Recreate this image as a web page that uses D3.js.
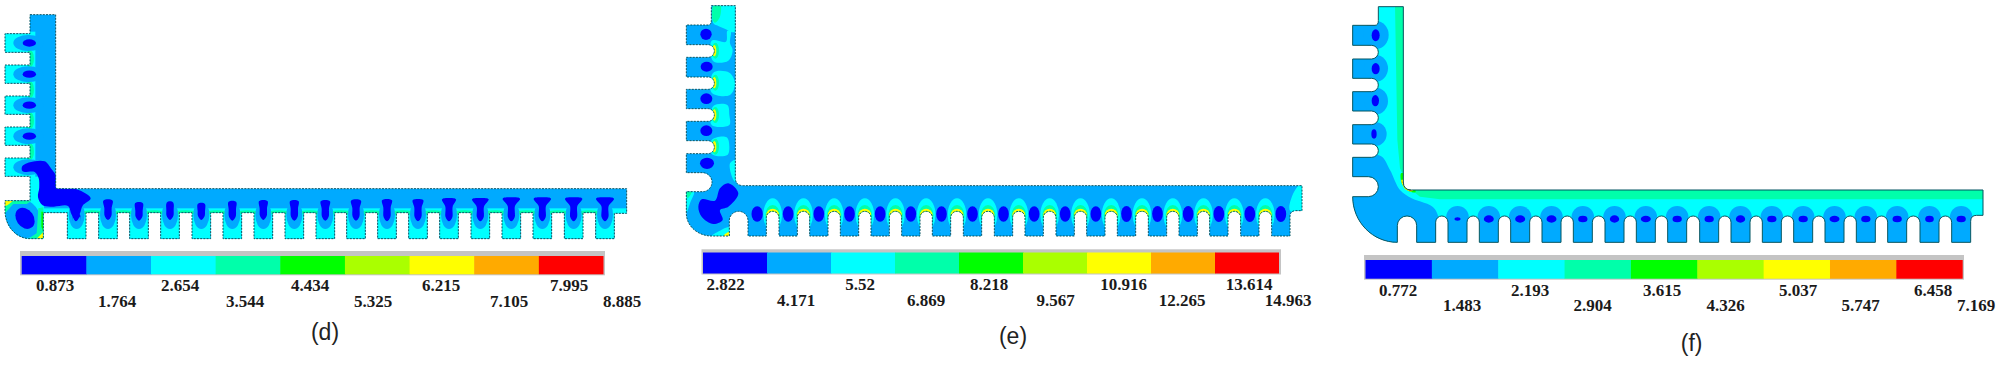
<!DOCTYPE html>
<html>
<head>
<meta charset="utf-8">
<script src="https://cdn.jsdelivr.net/npm/d3@7"></script>
<style>
  html, body { margin: 0; padding: 0; background: #fff; }
  svg { display: block; }
</style>
</head>
<body>
<div id="chart"></div>
<script>
const width = 1999;
const height = 385;

// Fringe colours, low to high
const levelColors = ["#0000ff", "#00aaff", "#00ffff", "#00ffaa", "#00ff00", "#aaff00", "#ffff00", "#ffaa00", "#ff0000"];

// Legend values
const dTicks = ["0.873", "1.764", "2.654", "3.544", "4.434", "5.325", "6.215", "7.105", "7.995", "8.885"];
const eTicks = ["2.822", "4.171", "5.52", "6.869", "8.218", "9.567", "10.916", "12.265", "13.614", "14.963"];
const fTicks = ["0.772", "1.483", "2.193", "2.904", "3.615", "4.326", "5.037", "5.747", "6.458", "7.169"];

// Label anchors along each bar
const dTickX = [55, 117, 180, 245, 310, 373, 441, 509, 569, 622];
const eTickX = [725.7, 796, 860, 926, 989, 1055.5, 1123.7, 1182, 1249, 1288];
const fTickX = [1398, 1462, 1530, 1592.5, 1662, 1725.5, 1798, 1860.5, 1933, 1976];

// Outline of the three parts, model units (1/3 px)
const dTeeth = [202, 296, 389, 482, 576, 669, 762, 855, 948, 1040, 1133, 1226, 1319, 1413, 1506, 1599, 1693, 1787];
const eTeeth = [234, 327, 419, 511, 603, 695, 787, 880, 973, 1065, 1158, 1250, 1342, 1435, 1527, 1619, 1712, 1805];
const fTeeth = [230, 324, 418, 512, 606, 700, 795, 889, 983, 1079, 1173, 1267, 1361, 1455, 1549, 1643, 1740, 1835];
const dArmTeeth = [[101, 157], [195, 250], [288, 343], [381, 436], [474, 529]];
const eArmTeeth = [[75, 134], [172, 231], [268, 326], [364, 422], [461, 518]];
const fArmTeeth = [[76, 136], [177, 235], [275, 333], [374, 432], [472, 530]];
const eSlotEnds = [133, 133, 133, 133, 126];
const fSlotEnds = [115, 115, 115, 115, 115];
const dSlotEnds = [90, 90, 90, 90, 90];

// Contour patches, [level, cx, cy, rx, ry, rotation]
const dEllipses = [
  [1, 70, 655, 50, 62, -30], [0, 75, 655, 26, 34, -35],
];
const dPolys = [
  [0, [[66, 500], [90, 487], [134, 484], [155, 508], [170, 530], [178, 555], [198, 566], [230, 568], [272, 595], [248, 617], [240, 640], [228, 664], [214, 642], [204, 618], [160, 620], [128, 616], [114, 592], [118, 562], [116, 535], [104, 516], [68, 514]]],
];
const dHot = [
  [3, [[15, 602], [95, 602], [80, 612], [40, 612], [15, 640]]],
  [6, [[15, 602], [40, 602], [22, 616], [15, 618]]],
  [3, [[115, 625], [130, 622], [130, 716], [85, 716], [110, 700]]],
  [4, [[124, 635], [130, 635], [130, 695], [124, 680]]],
  [6, [[110, 716], [130, 696], [130, 716]]],
];
const dCoreHead = [10, 14, 12, 10, 11, 12, 13, 13, 14, 15, 15, 16, 21, 25, 26, 26, 26, 27];
const dCoreTop = [640, 598, 606, 604, 608, 602, 600, 600, 600, 598, 597, 597, 594, 594, 592, 592, 592, 592];
const dCoreTip = [662, 660, 662, 660, 660, 662, 660, 662, 662, 662, 664, 664, 664, 664, 664, 664, 664, 664];

const ePatches = [
  [3, 136, 152, 11, 24, 0], [3, 136, 248, 11, 24, 0], [3, 136, 345, 11, 24, 0], [3, 136, 440, 11, 24, 0],
  [6, 133, 152, 6, 17, 0], [6, 133, 248, 6, 17, 0], [6, 133, 345, 6, 17, 0], [6, 133, 440, 6, 17, 0],
  [0, 108, 103, 17, 17, 0], [0, 110, 200, 18, 15, 0], [0, 109, 296, 18, 16, 0], [0, 109, 392, 18, 16, 0], [0, 111, 490, 21, 17, 0],
];
const eBands = [
  [2, [[135, 10], [205, 10], [205, 92], [182, 96], [172, 90], [145, 78], [130, 70]]],
  [2, [[125, 122], [168, 125], [172, 92], [182, 94], [180, 130], [188, 150], [175, 182], [130, 184]]],
  [2, [[130, 218], [178, 218], [195, 250], [180, 285], [125, 278]]],
  [2, [[130, 318], [172, 315], [178, 345], [178, 375], [125, 375]]],
  [2, [[125, 420], [170, 412], [178, 440], [172, 465], [125, 462]]],
  [3, [[132, 10], [150, 10], [150, 50], [135, 68], [128, 60]]],
  [2, [[180, 490], [196, 480], [196, 545], [186, 530]]],
];
const ePolys = [
  [0, [[150, 565], [175, 550], [205, 580], [175, 620], [150, 630], [158, 660], [130, 672], [95, 650], [85, 620], [95, 598], [135, 602]]],
  [2, [[49, 575], [72, 575], [60, 610], [49, 640]]],
  [3, [[49, 575], [65, 575], [52, 595]]],
  [2, [[125, 708], [150, 692], [178, 682], [178, 708]]],
  [6, [[160, 708], [178, 695], [178, 708]]],
  [2, [[1896, 548], [1870, 580], [1860, 632], [1896, 632]]],
];
const eCoreRx = [17, 16, 16, 16, 16, 16, 16, 16, 16, 16, 16, 16, 16, 16, 16, 16, 16, 16];
const eCoreRy = [23, 23, 23, 23, 23, 23, 23, 23, 23, 23, 23, 23, 24, 24, 24, 24, 24, 24];

const fArmBlobs = [[108, 105, 38, 42], [108, 205, 36, 40], [108, 303, 36, 40], [106, 402, 34, 36]];
const fArmCores = [[107, 106, 12, 18], [107, 206, 12, 17], [106, 302, 11, 17], [102, 402, 8, 14]];
const fCoreRx = [0, 9, 15, 15, 15, 14, 14, 15, 14, 14, 14, 14, 14, 15, 14, 14, 13, 14];
const fCoreRy = [0, 5, 11, 11, 11, 10, 11, 10, 10, 10, 11, 10, 10, 10, 10, 10, 10, 10];
const fCorner = [[38, 472], [122, 468], [150, 510], [180, 570], [215, 595], [285, 628], [292, 735], [38, 735]];
const fTeal = [[165, 15], [195, 15], [195, 565], [1935, 565], [1935, 598], [300, 598], [240, 590], [205, 562], [180, 505], [172, 420]];
const fHot = [
  [4, [[183, 520], [190, 520], [192, 545], [215, 567], [226, 570], [226, 577], [205, 573], [186, 552]]],
  [6, [[184, 540], [190, 540], [194, 553], [210, 566], [220, 570], [215, 574], [196, 568]]],
  [8, [[188, 545], [192, 548], [200, 560], [215, 570], [210, 572], [194, 560]]],
];

const panels = [
  {
    name: "d", x0: 0, y0: 0, top: 44, armL: 90, armR: 167, left: 15, teeth: dTeeth, toothW: 56,
    armTeeth: dArmTeeth, slotEnds: dSlotEnds, round: false, cornerTop: 602, arcY: 632, arcX: 90,
    cornerR: 130, bandTop: 566, slotTop: 638, bottom: 716, right: 1880, fillet: 6,
    stroke: "#0b5560", dash: "2,1.2", ticks: dTicks, tickX: dTickX, rows: [291, 307],
    barX: [21.7, 603.5], barY: [256, 274.3], gutter: [20, 605, 251, 275.3], title: [325, 332, 23],
  },
  {
    name: "e", x0: 670, y0: 0, top: 17, armL: 124, armR: 196, left: 49, teeth: eTeeth, toothW: 55,
    armTeeth: eArmTeeth, slotEnds: eSlotEnds, round: true, cornerTop: 575, arcY: 640, arcX: 125,
    cornerR: 178, bandTop: 557, slotTop: 634, bottom: 708, right: 1896, fillet: 24,
    stroke: "#0b5560", dash: "2,1.2", ticks: eTicks, tickX: eTickX, rows: [290, 306],
    barX: [703, 1279], barY: [252.5, 273.5], gutter: [701.5, 1281, 249.3, 274.5], title: [1013, 336, 23],
  },
  {
    name: "f", x0: 1340, y0: 0, top: 20, armL: 115, armR: 190, left: 38, teeth: fTeeth, toothW: 57,
    armTeeth: fArmTeeth, slotEnds: fSlotEnds, round: true, cornerTop: 590, arcY: 590, arcX: 172,
    cornerR: 172, bandTop: 570, slotTop: 648, bottom: 727, right: 1929, fillet: 24,
    stroke: "#0b5560", dash: null, ticks: fTicks, tickX: fTickX, rows: [295.7, 310.7],
    barX: [1365.5, 1962.7], barY: [260, 278.7], gutter: [1364, 1964, 255, 279.7], title: [1691.6, 343, 23],
  },
];

const svg = d3.select("#chart").append("svg").attr("width", width).attr("height", height);

// Source figure is a soft JPEG
svg.append("defs").append("filter").attr("id", "soft")
  .append("feGaussianBlur").attr("stdDeviation", 0.45);

const smooth = d3.line().curve(d3.curveCatmullRomClosed.alpha(0.5));
const straight = d3.line().curve(d3.curveLinearClosed);

// Build the part outline, clockwise from the top of the arm
function outline(p, x, y, k) {
  const c = d3.path();
  const kappa = 0.5523;
  c.moveTo(x(p.armL), y(p.top));
  c.lineTo(x(p.armR), y(p.top));
  c.lineTo(x(p.armR), y(p.bandTop - p.fillet));
  c.quadraticCurveTo(x(p.armR), y(p.bandTop), x(p.armR + p.fillet), y(p.bandTop));
  c.lineTo(x(p.right), y(p.bandTop));
  const stub = p.slotTop + (p.round ? -2 : 2);
  c.lineTo(x(p.right), y(stub));
  for (let i = p.teeth.length - 1; i >= 0; i--) {
    const a = p.teeth[i];
    const b = a + p.toothW;
    if (i === p.teeth.length - 1) {
      c.lineTo(x(b + (p.round ? 18 : 0)), y(stub));
      if (p.round) c.quadraticCurveTo(x(b), y(stub), x(b), y(stub + 18));
      else c.lineTo(x(b), y(stub));
    }
    c.lineTo(x(b), y(p.bottom));
    c.lineTo(x(a), y(p.bottom));
    const prev = i > 0 ? p.teeth[i - 1] + p.toothW : p.cornerR;
    if (p.round) {
      const r = (a - prev) / 2;
      c.lineTo(x(a), y(p.slotTop + r));
      c.arc(x((a + prev) / 2), y(p.slotTop + r), r * k, 0, -Math.PI, true);
    } else {
      c.lineTo(x(a), y(p.slotTop));
      c.lineTo(x(prev), y(p.slotTop));
    }
    if (i > 0) c.lineTo(x(prev), y(p.bottom));
  }
  c.lineTo(x(p.cornerR), y(p.bottom));
  c.lineTo(x(p.arcX), y(p.bottom));
  const rx = p.arcX - p.left;
  const ry = p.bottom - p.arcY;
  c.bezierCurveTo(x(p.arcX - rx * kappa), y(p.bottom), x(p.left), y(p.arcY + ry * kappa), x(p.left), y(p.arcY));
  let lower = p.cornerTop;
  c.lineTo(x(p.left), y(lower));
  for (let j = p.armTeeth.length - 1; j >= 0; j--) {
    const [t0, t1] = p.armTeeth[j];
    const end = p.slotEnds[j];
    if (p.round) {
      const r = (lower - t1) / 2;
      c.lineTo(x(end - r), y(lower));
      c.arc(x(end - r), y(t1 + r), r * k, Math.PI / 2, -Math.PI / 2, true);
    } else {
      c.lineTo(x(end), y(lower));
      c.lineTo(x(end), y(t1));
    }
    c.lineTo(x(p.left), y(t1));
    c.lineTo(x(p.left), y(t0));
    lower = t0;
  }
  if (p.round) {
    c.lineTo(x(p.armL - 10), y(lower));
    c.quadraticCurveTo(x(p.armL), y(lower), x(p.armL), y(lower - 14));
  } else {
    c.lineTo(x(p.armL), y(lower));
  }
  c.closePath();
  return c.toString();
}

panels.forEach((p) => {
  // Model units to page pixels
  const x = d3.scaleLinear().domain([0, 2000]).range([p.x0, p.x0 + 2000 / 3]);
  const y = d3.scaleLinear().domain([0, 1155]).range([p.y0, p.y0 + 385]);
  const k = 1 / 3;
  const shape = outline(p, x, y, k);

  svg.append("defs").append("clipPath").attr("id", `part-${p.name}`).append("path").attr("d", shape);

  const g = svg.append("g").attr("class", `panel panel-${p.name}`);
  const part = g.append("g").attr("filter", "url(#soft)");
  const inner = part.append("g").attr("clip-path", `url(#part-${p.name})`);

  const ell = (items) => {
    items.forEach(([level, cx, cy, rx, ry, rot]) => {
      inner.append("ellipse")
        .attr("cx", x(cx)).attr("cy", y(cy)).attr("rx", rx * k).attr("ry", ry * k)
        .attr("transform", rot ? `rotate(${rot} ${x(cx)} ${y(cy)})` : null)
        .attr("fill", levelColors[level]);
    });
  };
  const poly = (items, line) => {
    items.forEach(([level, pts]) => {
      inner.append("path")
        .attr("d", line(pts.map((q) => [x(q[0]), y(q[1])])))
        .attr("fill", levelColors[level]);
    });
  };
  const box = (level, x0, y0, x1, y1) => {
    inner.append("rect")
      .attr("x", x(x0)).attr("y", y(y0)).attr("width", x(x1) - x(x0)).attr("height", y(y1) - y(y0))
      .attr("fill", levelColors[level]);
  };

  const centers = p.teeth.map((t) => t + p.toothW / 2);
  const slots = p.teeth.slice(1).map((t, i) => (t + p.teeth[i] + p.toothW) / 2);

  if (p.name === "d") {
    box(1, 0, 0, 2000, 800);
    box(2, 130, 625, 1890, 720);
    box(2, 15, 95, 106, 535);
    box(2, 90, 530, 118, 610);
    box(2, 0, 600, 132, 720);
    slots.forEach((s) => ell([[3, s, 638, 34, 7, 0]]));
    p.armTeeth.slice(0, 4).forEach(([t0, t1], j) => {
      const next = p.armTeeth[j + 1][0];
      ell([[3, 90, (t1 + next) / 2, 12, 26, 0]]);
    });
    centers.forEach((c) => ell([[1, c, 645, 24, 42, 0]]));
    p.armTeeth.forEach(([t0, t1]) => ell([[1, 85, (t0 + t1) / 2, 45, 24, 0]]));
    ell(dEllipses);
    poly(dHot, straight);
    poly(dPolys, smooth);
    centers.forEach((c, i) => {
      const h = dCoreHead[i];
      const t = dCoreTop[i];
      const tip = dCoreTip[i];
      const pts = [[c - h, t + 4], [c, t], [c + h, t + 4], [c + 11, t + 26], [c + 10, tip - 12], [c, tip], [c - 10, tip - 12], [c - 11, t + 26]];
      inner.append("path").attr("d", smooth(pts.map((q) => [x(q[0]), y(q[1])]))).attr("fill", levelColors[0]);
    });
    ell(p.armTeeth.slice(0, 4).map(([t0, t1]) => [0, 88, (t0 + t1) / 2, 20, 11, 0]));
  }

  if (p.name === "e") {
    box(1, 0, 0, 2000, 800);
    poly(eBands, smooth);
    ell(ePatches);
    poly(ePolys, smooth);
    slots.forEach((s) => ell([[2, s, 645, 28, 50, 0], [3, s, 645, 22, 30, 0], [6, s, 645, 19, 19, 0]]));
    ell(centers.map((c, i) => [0, c, 642, eCoreRx[i], eCoreRy[i], 0]));
  }

  if (p.name === "f") {
    box(2, 0, 0, 2000, 800);
    poly([[3, fTeal]], straight);
    centers.slice(1).forEach((c) => ell([[1, c, 652, 34, 34, 0]]));
    p.teeth.forEach((t) => box(1, t, 652, t + p.toothW, 735));
    p.armTeeth.slice(0, 4).forEach(([t0, t1]) => box(1, 30, t0, 105, t1));
    ell(fArmBlobs.map((b) => [1, b[0], b[1], b[2], b[3], 0]));
    poly([[1, fCorner]], smooth);
    poly(fHot, smooth);
    ell(fArmCores.map((b) => [0, b[0], b[1], b[2], b[3], 0]));
    ell(centers.map((c, i) => [0, c, 657, fCoreRx[i], fCoreRy[i], 0]).filter((e) => e[3] > 0));
  }

  part.append("path")
    .attr("d", shape)
    .attr("fill", "none")
    .attr("stroke", p.stroke)
    .attr("stroke-width", 1)
    .attr("stroke-dasharray", p.dash);

  // Legend bar
  const [gx0, gx1, gy0, gy1] = p.gutter;
  g.append("rect").attr("x", gx0).attr("y", gy0).attr("width", gx1 - gx0).attr("height", gy1 - gy0).attr("fill", "#c4c4c4");
  const bar = d3.scaleBand().domain(d3.range(levelColors.length)).range(p.barX);
  g.selectAll("rect.swatch")
    .data(levelColors)
    .enter()
    .append("rect")
    .attr("class", "swatch")
    .attr("x", (d, i) => bar(i))
    .attr("y", p.barY[0])
    .attr("width", (d, i) => bar.bandwidth() + (i < 8 ? 0.5 : 0))
    .attr("height", p.barY[1] - p.barY[0])
    .attr("fill", (d) => d);

  // Labels in two staggered rows
  const tickX = d3.scaleOrdinal().domain(p.ticks).range(p.tickX);
  g.selectAll("text.tick")
    .data(p.ticks)
    .enter()
    .append("text")
    .attr("class", "tick")
    .attr("x", (d) => tickX(d))
    .attr("y", (d, i) => p.rows[i % 2])
    .attr("text-anchor", "middle")
    .attr("font-family", "Liberation Serif")
    .attr("font-weight", "bold")
    .attr("font-size", 17)
    .attr("fill", "#1a1a1a")
    .text((d) => d);

  g.append("text")
    .attr("x", p.title[0])
    .attr("y", p.title[1])
    .attr("dy", ".35em")
    .attr("text-anchor", "middle")
    .attr("font-family", "Liberation Sans")
    .attr("font-size", p.title[2])
    .attr("fill", "#222")
    .text(`(${p.name})`);
});
</script>
</body>
</html>
